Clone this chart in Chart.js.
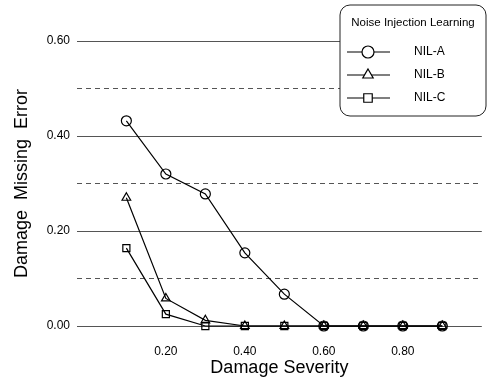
<!DOCTYPE html>
<html>
<head>
<meta charset="utf-8">
<script src="https://cdn.jsdelivr.net/npm/chart.js@4"></script>
<style>
  html, body { margin: 0; padding: 0; background: #fff; }
  #wrap { width: 488px; height: 380px; }
</style>
</head>
<body>
<div id="wrap"><canvas id="chart" width="488" height="380"></canvas></div>
<script>
const severity = [0.1, 0.2, 0.3, 0.4, 0.5, 0.6, 0.7, 0.8, 0.9];
const nilA = [0.432, 0.32, 0.278, 0.154, 0.067, 0, 0, 0, 0];
const nilB = [0.27, 0.058, 0.012, 0, 0, 0, 0, 0, 0];
const nilC = [0.164, 0.025, 0, 0, 0, 0, 0, 0, 0];
const xTicks = [0.2, 0.4, 0.6, 0.8];
const legendTitle = "Noise Injection Learning";

const FONT = "'Liberation Sans', Arial, sans-serif";

const series = [
  { label: "NIL-A", values: nilA, style: "circle" },
  { label: "NIL-B", values: nilB, style: "triangle" },
  { label: "NIL-C", values: nilC, style: "rect" },
];

// legend box drawn in the top right corner, like the original figure
const boxLegend = {
  id: "boxLegend",
  afterDraw(chart) {
    const ctx = chart.ctx;
    const x = 340, y = 5, w = 146, h = 111, r = 10;
    ctx.save();
    ctx.fillStyle = "#fff";
    ctx.strokeStyle = "#222";
    ctx.lineWidth = 1;
    ctx.beginPath();
    ctx.roundRect(x, y, w, h, r);
    ctx.fill();
    ctx.stroke();

    ctx.fillStyle = "#000";
    ctx.font = "11.5px " + FONT;
    ctx.textAlign = "center";
    ctx.textBaseline = "middle";
    ctx.fillText(legendTitle, x + w / 2, 23);

    chart.data.datasets.forEach((ds, i) => {
      const ly = 52 + i * 23;
      ctx.strokeStyle = "#000";
      ctx.lineWidth = 1.2;
      ctx.beginPath();
      ctx.moveTo(347, ly);
      ctx.lineTo(390, ly);
      ctx.stroke();
      ctx.fillStyle = "#fff";
      Chart.helpers.drawPoint(ctx, {
        pointStyle: ds.pointStyle,
        radius: 6,
        borderWidth: 1.2,
        rotation: 0,
      }, 368, ly);
      ctx.fillStyle = "#000";
      ctx.font = "12px " + FONT;
      ctx.textAlign = "left";
      ctx.fillText(ds.label, 414, ly);
    });
    ctx.restore();
  }
};

new Chart(document.getElementById("chart"), {
  type: "line",
  data: {
    datasets: series.map((s) => ({
      label: s.label,
      data: severity.map((x, i) => ({ x: x, y: s.values[i] })),
      borderColor: "#000",
      borderWidth: 1.2,
      pointStyle: s.style,
      pointRadius: 5,
      pointBorderWidth: 1.2,
      pointBorderColor: "#000",
      pointBackgroundColor: "rgba(0,0,0,0)",
      clip: false,
    })),
  },
  options: {
    responsive: false,
    animation: false,
    layout: { padding: { top: 41, right: 0, bottom: 0, left: 0 } },
    plugins: {
      legend: { display: false },
      tooltip: { enabled: false },
    },
    scales: {
      x: {
        type: "linear",
        min: -0.025,
        max: 1.0,
        afterBuildTicks: (scale) => {
          scale.ticks = xTicks.map((v) => ({ value: v }));
        },
        afterFit: (scale) => { scale.height = 54; },
        grid: { display: false },
        border: { display: false },
        ticks: {
          padding: 10,
          color: "#000",
          font: { family: FONT, size: 12 },
          callback: (v) => Number(v).toFixed(2),
        },
        title: {
          display: true,
          text: "Damage Severity",
          color: "#000",
          font: { family: FONT, size: 18 },
          padding: { top: 0, bottom: 1 },
        },
      },
      y: {
        min: 0,
        max: 0.6,
        afterFit: (scale) => { scale.width = 77; },
        grid: {
          drawTicks: false,
          color: "#555",
          lineWidth: 1,
        },
        border: {
          display: false,
          dash: (c) => (Math.round(c.tick.value * 10) % 2 === 1 ? [5, 4] : []),
        },
        ticks: {
          stepSize: 0.1,
          padding: 7,
          color: "#000",
          font: { family: FONT, size: 12 },
          callback: (v) => (Math.round(v * 10) % 2 === 0 ? Number(v).toFixed(2) : ""),
        },
        title: {
          display: true,
          text: "Damage  Missing  Error",
          color: "#000",
          font: { family: FONT, size: 18 },
          padding: { top: 11, bottom: 0 },
        },
      },
    },
  },
  plugins: [boxLegend],
});
</script>
</body>
</html>
